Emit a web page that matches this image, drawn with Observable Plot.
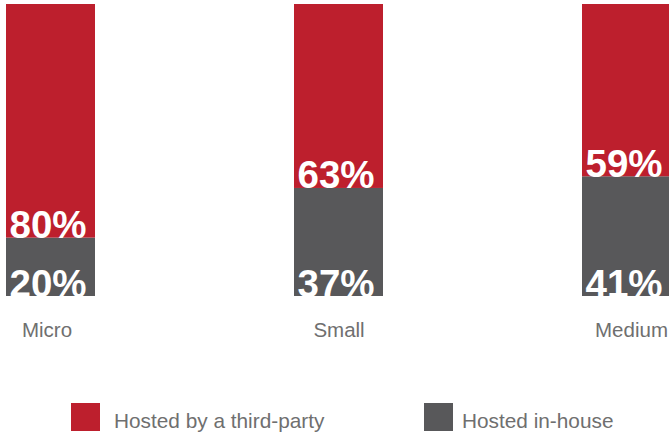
<!DOCTYPE html>
<html>
<head>
<meta charset="utf-8">
<script src="https://cdn.jsdelivr.net/npm/d3@7"></script>
<script src="https://cdn.jsdelivr.net/npm/@observablehq/plot@0.6"></script>
<style>
  html, body { margin: 0; padding: 0; background: #fff; }
  #wrap { position: relative; width: 669px; height: 435px; overflow: hidden; font-family: "Liberation Sans", Arial, sans-serif; }
  .sw { position: absolute; top: 403px; width: 29px; height: 28px; }
  .lt { position: absolute; top: 410px; font-size: 20.8px; line-height: 21px; color: #6f6f6f; white-space: nowrap; }
</style>
</head>
<body>
<div id="wrap"></div>
<script>
const categories = ["Micro", "Small", "Medium"];
const seriesNames = ["Hosted in-house", "Hosted by a third-party"];
const inHouse = [20, 37, 41];
const thirdParty = [80, 63, 59];
const colors = ["#58585a", "#bd1f2d"];

const data = [];
categories.forEach((c, i) => {
  data.push({category: c, type: seriesNames[0], value: inHouse[i]});
  data.push({category: c, type: seriesNames[1], value: thirdParty[i]});
});

const axisStyle = {tickSize: 0, tickPadding: 26, fontSize: 20.5, label: null};

const chart = Plot.plot({
  width: 669,
  height: 360,
  marginTop: 4,
  marginBottom: 64,
  marginLeft: 0,
  marginRight: 0,
  style: {fontFamily: "Liberation Sans, Arial, sans-serif", background: "transparent"},
  x: {domain: categories, range: [5, 671], paddingInner: 0.6915, paddingOuter: 0, label: null, axis: null},
  y: {domain: [0, 100], axis: null},
  color: {domain: seriesNames, range: colors},
  marks: [
    Plot.barY(data, {x: "category", y: "value", fill: "type", order: seriesNames}),
    Plot.text(data, Plot.stackY1({
      x: "category", y: "value", z: "type", order: seriesNames,
      text: d => d.value + "%",
      fill: "white", fontWeight: "bold", fontSize: 38.5,
      textAnchor: "start", lineAnchor: "bottom", dx: -41.5,
      clip: true
    })),
    Plot.axisX([categories[0]], {...axisStyle, dx: -4}),
    Plot.axisX([categories[1]], {...axisStyle, dx: 0}),
    Plot.axisX([categories[2]], {...axisStyle, dx: 4.5})
  ]
});

const wrap = document.getElementById("wrap");
wrap.appendChild(chart);
chart.querySelectorAll("g[aria-label='x-axis tick label'] text").forEach(t => t.setAttribute("fill", "#6f6f6f"));
chart.querySelectorAll("g[aria-label='x-axis tick label']").forEach(g => g.setAttribute("fill", "#6f6f6f"));

const legendItems = [
  {name: seriesNames[1], color: colors[1], sx: 71, tx: 114},
  {name: seriesNames[0], color: colors[0], sx: 424, tx: 462}
];
legendItems.forEach(it => {
  const s = document.createElement("div");
  s.className = "sw"; s.style.left = it.sx + "px"; s.style.background = it.color;
  const t = document.createElement("div");
  t.className = "lt"; t.style.left = it.tx + "px"; t.textContent = it.name;
  wrap.appendChild(s); wrap.appendChild(t);
});
</script>
</body>
</html>
